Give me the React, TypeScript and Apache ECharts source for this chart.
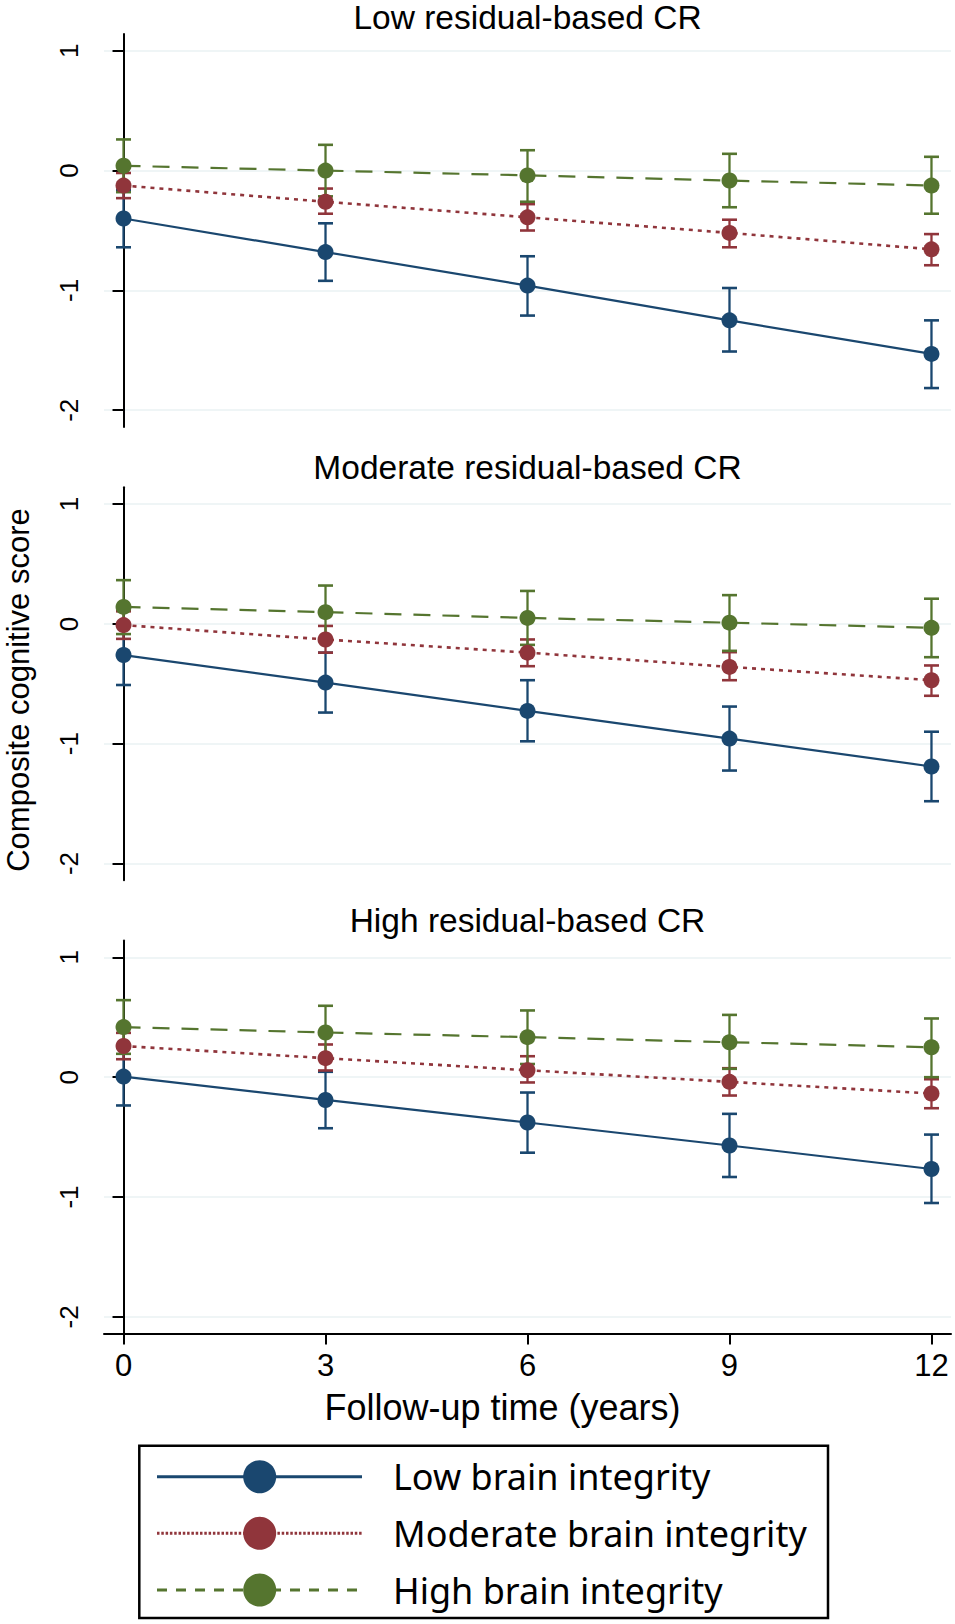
import React, { useEffect, useRef } from 'react';
import * as echarts from 'echarts';

// ---- data ----
const years = [0, 3, 6, 9, 12];
const xTicks = [0, 3, 6, 9, 12];
const yTicks = [-2, -1, 0, 1];
const panelTitles = ['Low residual-based CR', 'Moderate residual-based CR', 'High residual-based CR'];
const groupNames = ['Low brain integrity', 'Moderate brain integrity', 'High brain integrity'];

// Panel 1: Low residual-based CR
const lowCR_lowBI = [-0.4, -0.68, -0.96, -1.25, -1.53];
const lowCR_lowBI_lo = [-0.64, -0.92, -1.21, -1.51, -1.815];
const lowCR_lowBI_hi = [-0.16, -0.44, -0.715, -0.98, -1.25];
const lowCR_modBI = [-0.125, -0.26, -0.39, -0.52, -0.657];
const lowCR_modBI_lo = [-0.23, -0.36, -0.5, -0.64, -0.79];
const lowCR_modBI_hi = [-0.02, -0.15, -0.28, -0.41, -0.53];
const lowCR_highBI = [0.04, 0.0, -0.04, -0.083, -0.125];
const lowCR_highBI_lo = [-0.18, -0.215, -0.26, -0.306, -0.36];
const lowCR_highBI_hi = [0.26, 0.215, 0.17, 0.14, 0.115];

// Panel 2: Moderate residual-based CR
const modCR_lowBI = [-0.26, -0.49, -0.726, -0.957, -1.19];
const modCR_lowBI_lo = [-0.51, -0.74, -0.98, -1.224, -1.48];
const modCR_lowBI_hi = [-0.01, -0.24, -0.47, -0.69, -0.9];
const modCR_modBI = [-0.01, -0.13, -0.24, -0.359, -0.47];
const modCR_modBI_lo = [-0.125, -0.24, -0.353, -0.47, -0.6];
const modCR_modBI_hi = [0.105, -0.017, -0.13, -0.236, -0.347];
const modCR_highBI = [0.142, 0.098, 0.05, 0.01, -0.033];
const modCR_highBI_lo = [-0.085, -0.125, -0.175, -0.225, -0.278];
const modCR_highBI_hi = [0.365, 0.32, 0.275, 0.24, 0.21];

// Panel 3: High residual-based CR
const highCR_lowBI = [0.005, -0.19, -0.378, -0.57, -0.766];
const highCR_lowBI_lo = [-0.236, -0.426, -0.63, -0.833, -1.05];
const highCR_lowBI_hi = [0.245, 0.045, -0.128, -0.306, -0.479];
const highCR_modBI = [0.26, 0.159, 0.058, -0.039, -0.136];
const highCR_modBI_lo = [0.15, 0.056, -0.044, -0.153, -0.259];
const highCR_modBI_hi = [0.37, 0.273, 0.175, 0.075, -0.017];
const highCR_highBI = [0.418, 0.373, 0.334, 0.292, 0.25];
const highCR_highBI_lo = [0.195, 0.15, 0.11, 0.07, 0.0];
const highCR_highBI_hi = [0.643, 0.596, 0.557, 0.52, 0.49];

const panels = [
  [
    [lowCR_lowBI, lowCR_lowBI_lo, lowCR_lowBI_hi],
    [lowCR_modBI, lowCR_modBI_lo, lowCR_modBI_hi],
    [lowCR_highBI, lowCR_highBI_lo, lowCR_highBI_hi],
  ],
  [
    [modCR_lowBI, modCR_lowBI_lo, modCR_lowBI_hi],
    [modCR_modBI, modCR_modBI_lo, modCR_modBI_hi],
    [modCR_highBI, modCR_highBI_lo, modCR_highBI_hi],
  ],
  [
    [highCR_lowBI, highCR_lowBI_lo, highCR_lowBI_hi],
    [highCR_modBI, highCR_modBI_lo, highCR_modBI_hi],
    [highCR_highBI, highCR_highBI_lo, highCR_highBI_hi],
  ],
];

// ---- styles ----
const colors = ['#1a476f', '#90353b', '#55752f'];
const lineTypes: any[] = ['solid', [4, 5], [17, 12]];
const lineWidths = [2.2, 2.6, 2.2];
const legendDash: any[] = [null, [2.5, 1.8], [10, 9]];
const STATA_FONT = 'Liberation Sans';
const GRID_LEFT = 104;
const GRID_RIGHT = 4;
const GRID_TOPS = [34, 487.3, 940.6];
const GRID_H = 393;

// legend box layout
const LEG_BOX = { x: 139.3, y: 1445.7, w: 688.7, h: 172.3 };
const LEG_ROWS = [1476.7, 1533.3, 1590];

export default function App() {
  const ref = useRef<HTMLDivElement>(null);

  useEffect(() => {
    if (!ref.current) return;
    const chart = echarts.init(ref.current, null, { renderer: 'svg' });

    const grids = GRID_TOPS.map((top) => ({ left: GRID_LEFT, right: GRID_RIGHT, top, height: GRID_H }));

    const xAxes = GRID_TOPS.map((_, p) => {
      const isBottom = p === 2;
      return {
        type: 'value',
        gridIndex: p,
        min: -0.29,
        max: 12.29,
        axisLine: { show: isBottom, onZero: false, lineStyle: { color: '#000', width: 2 } },
        axisTick: { show: isBottom, length: 11, customValues: xTicks, lineStyle: { color: '#000', width: 2 } },
        axisLabel: {
          show: isBottom,
          customValues: xTicks,
          margin: 16,
          fontSize: 31,
          fontFamily: STATA_FONT,
          color: '#000',
        },
        splitLine: { show: false },
        name: isBottom ? 'Follow-up time (years)' : '',
        nameLocation: 'middle',
        nameGap: 56,
        nameTextStyle: { fontSize: 36, fontFamily: STATA_FONT, color: '#000', padding: [0, 50, 0, 0] },
      };
    });

    const yAxes = GRID_TOPS.map((_, p) => ({
      type: 'value',
      gridIndex: p,
      min: -2.14,
      max: 1.14,
      axisLine: { show: true, lineStyle: { color: '#000', width: 2 } },
      axisTick: { show: true, length: 11, customValues: yTicks, lineStyle: { color: '#000', width: 2 } },
      axisLabel: {
        rotate: 90,
        margin: 22,
        customValues: yTicks,
        fontSize: 26,
        fontFamily: STATA_FONT,
        color: '#000',
      },
      splitLine: { show: true, lineStyle: { color: '#eaf2f3', width: 1.5 } },
    }));

    const series: any[] = [];
    panels.forEach((groups, p) => {
      groups.forEach(([mean, lo, hi], g) => {
        const color = colors[g];
        series.push({
          type: 'custom',
          name: 'ci-' + p + '-' + g,
          xAxisIndex: p,
          yAxisIndex: p,
          z: 2,
          silent: true,
          encode: { x: 0, y: [1, 2] },
          data: years.map((x, i) => [x, lo[i], hi[i]]),
          renderItem: (params: any, api: any) => {
            const x = api.value(0);
            const pLo = api.coord([x, api.value(1)]);
            const pHi = api.coord([x, api.value(2)]);
            const hw = 7.5;
            const style = { stroke: color, lineWidth: 2.3, fill: null };
            return {
              type: 'group',
              children: [
                { type: 'line', shape: { x1: pLo[0], y1: pLo[1], x2: pHi[0], y2: pHi[1] }, style },
                { type: 'line', shape: { x1: pLo[0] - hw, y1: pLo[1], x2: pLo[0] + hw, y2: pLo[1] }, style: { ...style, lineWidth: 2.6 } },
                { type: 'line', shape: { x1: pHi[0] - hw, y1: pHi[1], x2: pHi[0] + hw, y2: pHi[1] }, style: { ...style, lineWidth: 2.6 } },
              ],
            };
          },
        });
        series.push({
          type: 'line',
          name: groupNames[g],
          xAxisIndex: p,
          yAxisIndex: p,
          z: 3,
          data: years.map((x, i) => [x, mean[i]]),
          symbol: 'circle',
          symbolSize: 16,
          showSymbol: true,
          lineStyle: { color, width: lineWidths[g], type: lineTypes[g] },
          itemStyle: { color },
          emphasis: { disabled: true },
        });
      });
    });

    const graphics: any[] = [];
    const titleY = [17, 467.5, 920.5];
    panelTitles.forEach((t, p) => {
      graphics.push({
        type: 'text',
        x: GRID_LEFT + (955 - GRID_LEFT - GRID_RIGHT) / 2,
        y: titleY[p],
        style: {
          text: t,
          fontSize: 33.5,
          fontFamily: STATA_FONT,
          fill: '#000',
          textAlign: 'center',
          textVerticalAlign: 'middle',
        },
      });
    });
    graphics.push({
      type: 'text',
      x: 18,
      y: 690,
      rotation: Math.PI / 2,
      style: {
        text: 'Composite cognitive score',
        fontSize: 31,
        fontFamily: STATA_FONT,
        fill: '#000',
        textAlign: 'center',
        textVerticalAlign: 'middle',
      },
    });

    // legend (drawn as a boxed key)
    graphics.push({
      type: 'rect',
      shape: { x: LEG_BOX.x, y: LEG_BOX.y, width: LEG_BOX.w, height: LEG_BOX.h },
      style: { fill: 'none', stroke: '#000', lineWidth: 2.5 },
    });
    groupNames.forEach((n, g) => {
      const cy = LEG_ROWS[g];
      graphics.push({
        type: 'line',
        shape: { x1: 157, y1: cy, x2: 362, y2: cy },
        style: { stroke: colors[g], lineWidth: 3, lineDash: legendDash[g] },
      });
      graphics.push({
        type: 'circle',
        shape: { cx: 259.7, cy, r: 16.5 },
        style: { fill: colors[g] },
      });
      graphics.push({
        type: 'text',
        x: 393,
        y: cy,
        style: {
          text: n,
          fontSize: 36,
          fontFamily: 'Noto Sans',
          fill: '#000',
          textAlign: 'left',
          textVerticalAlign: 'middle',
        },
      });
    });

    const option: any = {
      animation: false,
      backgroundColor: '#fff',
      grid: grids,
      xAxis: xAxes,
      yAxis: yAxes,
      series,
      graphic: graphics,
    };

    chart.setOption(option);
    return () => chart.dispose();
  }, []);

  return <div ref={ref} style={{ position: 'absolute', left: 0, top: 0, width: 955, height: 1624 }} />;
}
